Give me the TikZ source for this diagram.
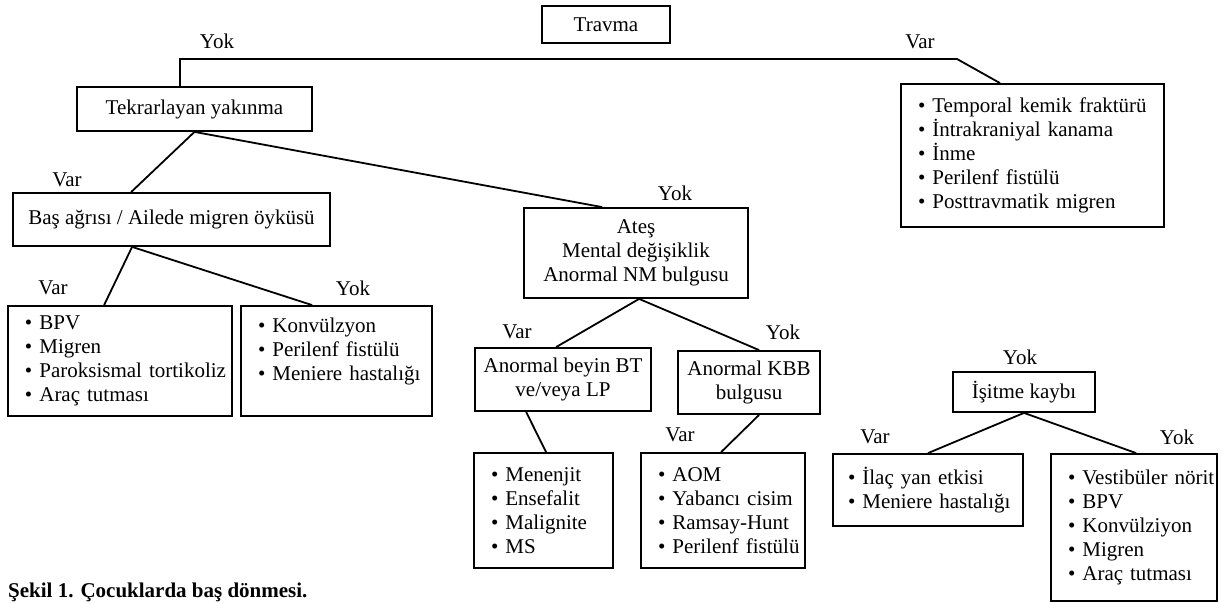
\documentclass[tikz,border=0pt]{standalone}
\usepackage{fontspec}
\setmainfont{Liberation Serif}
\newcommand\bl{\hspace*{17pt}•\ }
\newcommand\bll{\hspace*{15pt}•\ }
\begin{document}
\begin{tikzpicture}[x=1pt,y=-1pt,
  font=\fontsize{21}{24}\selectfont,
  box/.style={draw, line width=1.8pt, inner sep=0pt, align=center},
  listbox/.style={draw, line width=1.8pt, inner sep=0pt, align=left},
  conn/.style={line width=1.8pt},
  lbl/.style={inner sep=0pt}]
\useasboundingbox (0,0) rectangle (1222,604);

% decision boxes
\node[box, minimum width=128pt, minimum height=37pt] (travma) at (606,24.5) {Travma};
\node[box, minimum width=235pt, minimum height=44pt] (tekrar) at (194.5,109) {Tekrarlayan yakınma};
\node[box, minimum width=317pt, minimum height=53pt] (bas) at (171.5,219.5) {Baş ağrısı / Ailede migren öyküsü};
\node[box, minimum width=224pt, minimum height=90pt] (ates) at (636,253) {Ateş\\Mental değişiklik\\Anormal NM bulgusu};
\node[box, minimum width=176pt, minimum height=63pt] (bt) at (563,379.5) {Anormal beyin BT\\ve/veya LP};
\node[box, minimum width=142pt, minimum height=63pt] (kbb) at (749,382.5) {Anormal KBB\\bulgusu};
\node[box, minimum width=142pt, minimum height=40pt] (isitme) at (1024,392) {İşitme kaybı};

% list boxes
\node[listbox, text width=263pt, minimum height=143pt] (temporal) at (1032.5,155.5)
  {\bl Temporal kemik fraktürü\\\bl İntrakraniyal kanama\\\bl İnme\\\bl Perilenf fistülü\\\bl Posttravmatik migren};
\node[listbox, text width=224pt, minimum height=110pt] (bpv) at (120,361)
  {\bl BPV\\\bl Migren\\\bl Paroksismal tortikoliz\\\bl Araç tutması};
\node[listbox, text width=191pt, minimum height=110pt] (konv) at (336.5,361)
  {\bl Konvülzyon\\\bl Perilenf fistülü\\\bl Meniere hastalığı\\\mbox{}};
\node[listbox, text width=139pt, minimum height=115pt] (men) at (543.5,510.5)
  {\bl Menenjit\\\bl Ensefalit\\\bl Malignite\\\bl MS};
\node[listbox, text width=164pt, minimum height=115pt] (aom) at (723,510.5)
  {\bl AOM\\\bl Yabancı cisim\\\bl Ramsay-Hunt\\\bl Perilenf fistülü};
\node[listbox, text width=190pt, minimum height=72pt] (ilac) at (928,490)
  {\bll İlaç yan etkisi\\\bll Meniere hastalığı};
\node[listbox, text width=166pt, minimum height=147pt] (vest) at (1134,527.5)
  {\bl Vestibüler nörit\\\bl BPV\\\bl Konvülziyon\\\bl Migren\\\bl Araç tutması};

% connectors
\coordinate (yokbend) at (180,59);
\coordinate (varbend) at (957,59);
\coordinate (varend) at (1000,0);
\draw[conn] (tekrar.north -| yokbend) -- (yokbend) -- (varbend) -- (temporal.north -| varend);

\draw[conn] (tekrar.south) -- ([xshift=119pt]bas.north west);
\draw[conn] (tekrar.south) -- ([xshift=79pt]ates.north west);

\draw[conn] ([xshift=120pt]bas.south west) -- ([xshift=97pt]bpv.north west);
\draw[conn] ([xshift=120pt]bas.south west) -- ([xshift=72pt]konv.north west);

\draw[conn] ([xshift=116pt]ates.south west) -- ([xshift=82pt]bt.north west);
\draw[conn] ([xshift=116pt]ates.south west) -- ([xshift=82pt]kbb.north west);

\draw[conn] ([xshift=52pt]bt.south west) -- ([xshift=73pt]men.north west);
\draw[conn] ([xshift=82pt]kbb.south west) -- ([xshift=81pt]aom.north west);

\draw[conn] (isitme.south) -- (ilac.north);
\draw[conn] (isitme.south) -- ([xshift=86pt]vest.north west);

% labels
\node[lbl] (l1) at (217,41) {Yok};
\node[lbl] (l2) at (920,42) {Var};
\node[lbl] (l3) at (67,180) {Var};
\node[lbl] (l4) at (675,193) {Yok};
\node[lbl] (l5) at (53,288) {Var};
\node[lbl] (l6) at (353,288) {Yok};
\node[lbl] (l7) at (517,332) {Var};
\node[lbl] (l8) at (783,332) {Yok};
\node[lbl] (l9) at (680,435) {Var};
\node[lbl] (l10) at (1020,357) {Yok};
\node[lbl] (l11) at (875,437) {Var};
\node[lbl] (l12) at (1177,437) {Yok};

% caption
\node[lbl, anchor=west, font=\fontsize{21}{24}\selectfont\bfseries] (cap) at (8,592) {Şekil 1. Çocuklarda baş dönmesi.};
\end{tikzpicture}
\end{document}
